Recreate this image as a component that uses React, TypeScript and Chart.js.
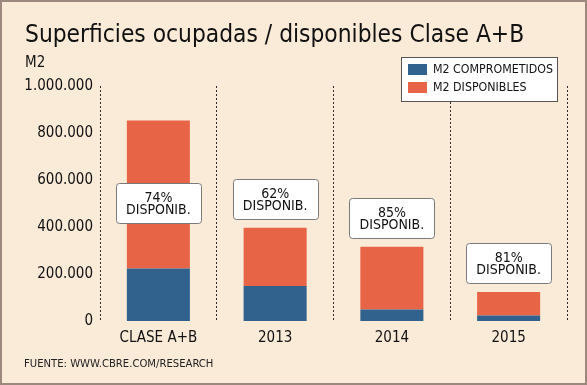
import React, { useEffect, useRef } from "react";
import { Chart, registerables } from "chart.js";

Chart.register(...registerables);

const categories = ["CLASE A+B", "2013", "2014", "2015"];
const comprometidos = [223000, 149000, 49000, 23000];
const disponibles = [630000, 248000, 267000, 100000];
const pctLabels = ["74%", "62%", "85%", "81%"];
const labelCenters = [502000, 521000, 438000, 248000];
const yTicks = [0, 200000, 400000, 600000, 800000, 1000000];
const seriesNames = ["M2 COMPROMETIDOS", "M2 DISPONIBLES"];
const titleText = "Superficies ocupadas / disponibles Clase A+B";
const unitText = "M2";
const sourceText = "FUENTE: WWW.CBRE.COM/RESEARCH";
const boxWord = "DISPONIB.";

const FONT = "'DejaVu Sans Condensed', 'Liberation Sans Narrow', 'DejaVu Sans', sans-serif";
const BLUE = "#31628d";
const ORANGE = "#e86447";
const BG = "#faebd8";

const fmt = (v: number) => String(v).replace(/\B(?=(\d{3})+(?!\d))/g, ".");

const decorPlugin = {
  id: "decor",
  beforeDraw(chart: any) {
    const { ctx, width, height } = chart;
    ctx.save();
    ctx.fillStyle = BG;
    ctx.fillRect(0, 0, width, height);
    ctx.strokeStyle = "#9c887c";
    ctx.lineWidth = 2;
    ctx.strokeRect(1, 1, width - 2, height - 2);
    ctx.fillStyle = "#111";
    ctx.textBaseline = "alphabetic";
    ctx.textAlign = "left";
    ctx.font = `24.3px ${FONT}`;
    ctx.fillText(titleText, 25, 42);
    ctx.font = `15px ${FONT}`;
    ctx.fillText(unitText, 25, 67);
    ctx.font = `11.2px ${FONT}`;
    ctx.fillStyle = "#222";
    ctx.fillText(sourceText, 24, 367);
    ctx.restore();
  },
  afterDatasetsDraw(chart: any) {
    const { ctx } = chart;
    const yScale = chart.scales.y;
    const meta = chart.getDatasetMeta(1);
    ctx.save();
    meta.data.forEach((bar: any, i: number) => {
      const cx = bar.x;
      const cy = yScale.getPixelForValue(labelCenters[i]);
      const w = 85, h = 40;
      const x0 = Math.round(cx - w / 2) + 0.5;
      const y0 = Math.round(cy - h / 2) + 0.5;
      ctx.beginPath();
      ctx.roundRect(x0, y0, w, h, 3);
      ctx.fillStyle = "#ffffff";
      ctx.fill();
      ctx.strokeStyle = "#7a7a7a";
      ctx.lineWidth = 1;
      ctx.stroke();
      ctx.fillStyle = "#111";
      ctx.textAlign = "center";
      ctx.textBaseline = "alphabetic";
      ctx.font = `14px ${FONT}`;
      ctx.fillText(pctLabels[i], cx, cy - 1);
      ctx.fillText(boxWord, cx, cy + 11);
    });
    // legend
    const lx = 401, ly = 57, lw = 156, lh = 44;
    ctx.fillStyle = "#ffffff";
    ctx.fillRect(lx, ly, lw, lh);
    ctx.strokeStyle = "#555";
    ctx.lineWidth = 1;
    ctx.strokeRect(lx + 0.5, ly + 0.5, lw, lh);
    const colors = [BLUE, ORANGE];
    ctx.font = `12.3px ${FONT}`;
    ctx.textAlign = "left";
    ctx.textBaseline = "middle";
    seriesNames.forEach((name, k) => {
      const yy = ly + 13 + k * 18;
      ctx.fillStyle = colors[k];
      ctx.fillRect(lx + 7, yy - 6, 19, 11);
      ctx.fillStyle = "#111";
      ctx.fillText(name, lx + 32, yy);
    });
    ctx.restore();
  },
};

export default function App() {
  const ref = useRef<HTMLCanvasElement>(null);
  useEffect(() => {
    document.body.style.margin = "0";
    const chart = new Chart(ref.current!, {
      type: "bar",
      data: {
        labels: categories,
        datasets: [
          { label: seriesNames[0], data: comprometidos, backgroundColor: BLUE, borderWidth: 0 },
          { label: seriesNames[1], data: disponibles, backgroundColor: ORANGE, borderWidth: 0 },
        ],
      },
      options: {
        animation: false,
        responsive: false,
        layout: { padding: { top: 86, right: 20, left: 0, bottom: 0 } },
        plugins: { legend: { display: false }, tooltip: { enabled: false }, title: { display: false } },
        datasets: { bar: { categoryPercentage: 1, barPercentage: 0.54 } },
        scales: {
          x: {
            stacked: true,
            grid: { display: true, offset: true, drawTicks: false, color: "#2a2a2a", lineWidth: 1 },
            border: { display: false, dash: [2, 2] },
            ticks: { color: "#111", font: { family: FONT, size: 15 }, padding: 8 },
            afterFit: (s: any) => { s.height = 64; },
          },
          y: {
            stacked: true,
            min: 0,
            max: 1000000,
            afterBuildTicks: (s: any) => { s.ticks = yTicks.map((v) => ({ value: v })); },
            grid: { display: false, drawTicks: false },
            border: { display: false },
            ticks: { color: "#111", font: { family: FONT, size: 15 }, padding: 7, callback: (v: any) => fmt(Number(v)) },
            afterFit: (s: any) => { s.width = 100; },
          },
        },
      },
      plugins: [decorPlugin],
    } as any);
    return () => chart.destroy();
  }, []);
  return <canvas ref={ref} width={587} height={385} style={{ display: "block" }} />;
}
